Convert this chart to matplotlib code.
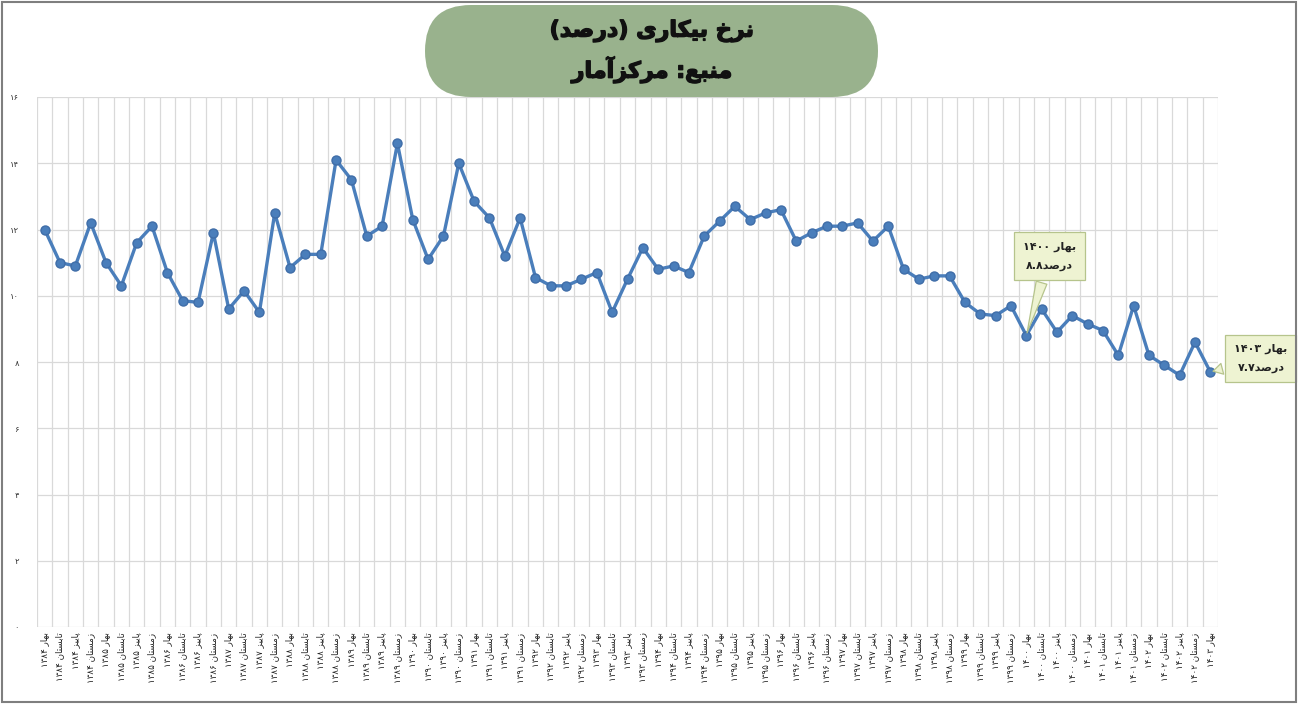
# -*- coding: utf-8 -*-
import re
import numpy as np
import matplotlib
matplotlib.use('Agg')
import matplotlib.pyplot as plt
import matplotlib.patheffects as pe
from matplotlib.patches import FancyBboxPatch, Rectangle
from matplotlib.transforms import IdentityTransform

plt.rcParams['font.family'] = ['DejaVu Sans']

# data: quarterly unemployment rate, spring 1384 .. spring 1403
seasons = ['بهار', 'تابستان', 'پاییز', 'زمستان']
start_year = 1384
rate = [12.0, 11.0, 10.9, 12.2, 11.0, 10.3, 11.6, 12.1, 10.7, 9.85,
        9.8, 11.9, 9.6, 10.15, 9.5, 12.5, 10.85, 11.25, 11.25, 14.1,
        13.5, 11.8, 12.1, 14.6, 12.3, 11.1, 11.8, 14.0, 12.85, 12.35,
        11.2, 12.35, 10.55, 10.3, 10.3, 10.5, 10.7, 9.5, 10.5, 11.45,
        10.8, 10.9, 10.7, 11.8, 12.25, 12.7, 12.3, 12.5, 12.6, 11.65,
        11.9, 12.1, 12.1, 12.2, 11.65, 12.1, 10.8, 10.5, 10.6, 10.6,
        9.8, 9.45, 9.4, 9.7, 8.8, 9.6, 8.9, 9.4, 9.15, 8.95,
        8.2, 9.7, 8.2, 7.9, 7.6, 8.6, 7.7]
y_ticks = [0, 2, 4, 6, 8, 10, 12, 14, 16]
title1 = 'نرخ بیکاری (درصد)'
title2 = 'منبع: مرکزآمار'
note1 = ('بهار ۱۴۰۰', '۸.۸درصد')
note2 = ('بهار ۱۴۰۳', '۷.۷درصد')

# --- minimal persian shaping (matplotlib has no text shaping) ---
FORMS = {
    'ا': ('\uFE8D', '\uFE8E', None, None),
    'آ': ('\uFE81', '\uFE82', None, None),
    'ب': ('\uFE8F', '\uFE90', '\uFE91', '\uFE92'),
    'پ': ('\uFB56', '\uFB57', '\uFB58', '\uFB59'),
    'ت': ('\uFE95', '\uFE96', '\uFE97', '\uFE98'),
    'خ': ('\uFEA5', '\uFEA6', '\uFEA7', '\uFEA8'),
    'د': ('\uFEA9', '\uFEAA', None, None),
    'ر': ('\uFEAD', '\uFEAE', None, None),
    'ز': ('\uFEAF', '\uFEB0', None, None),
    'س': ('\uFEB1', '\uFEB2', '\uFEB3', '\uFEB4'),
    'ص': ('\uFEB9', '\uFEBA', '\uFEBB', '\uFEBC'),
    'ع': ('\uFEC9', '\uFECA', '\uFECB', '\uFECC'),
    'ک': ('\uFB8E', '\uFB8F', '\uFB90', '\uFB91'),
    'م': ('\uFEE1', '\uFEE2', '\uFEE3', '\uFEE4'),
    'ن': ('\uFEE5', '\uFEE6', '\uFEE7', '\uFEE8'),
    'ه': ('\uFEE9', '\uFEEA', '\uFEEB', '\uFEEC'),
    'ی': ('\uFBFC', '\uFBFD', '\uFBFE', '\uFBFF'),
}
NUM = r'[0-9\u06F0-\u06F9.]+'
MIRROR = str.maketrans('()', ')(')


def shape(s):
    out = []
    for i, c in enumerate(s):
        if c not in FORMS:
            out.append(c)
            continue
        f = FORMS[c]
        prev = s[i - 1] if i > 0 else ''
        nxt = s[i + 1] if i + 1 < len(s) else ''
        jp = prev in FORMS and FORMS[prev][2] is not None
        jn = f[2] is not None and nxt in FORMS
        if jp and jn:
            out.append(f[3])
        elif jp:
            out.append(f[1])
        elif jn:
            out.append(f[2])
        else:
            out.append(f[0])
    return ''.join(out)


def fa(s, rtl=True):
    parts = [p for p in re.split('(' + NUM + ')', shape(s)) if p]
    parts = [p if re.fullmatch(NUM, p) else p[::-1].translate(MIRROR) for p in parts]
    if rtl:
        parts = parts[::-1]
    return ''.join(parts)


def fa_num(v):
    return str(v).translate(str.maketrans('0123456789', '۰۱۲۳۴۵۶۷۸۹'))


labels = []
for i in range(len(rate)):
    yr = start_year + i // 4
    labels.append(fa(seasons[i % 4] + ' ' + fa_num(yr)))

W, H = 1298, 704
fig = plt.figure(figsize=(W / 100, H / 100), dpi=100)
ax = fig.add_axes([37 / W, 77 / H, (1218 - 37) / W, (627 - 97) / H])

x = np.arange(len(rate))
ax.plot(x, rate, color='#4A7EBB', lw=2.4, marker='o', ms=6.5,
        mfc='#4A7EBB', mec='#3F6DA8', zorder=3)

ax.set_xlim(-0.5, len(rate) - 0.5)
ax.set_ylim(0, 16)
ax.set_yticks(y_ticks)
ax.set_yticklabels([fa_num(v) for v in y_ticks], fontsize=6, color='#333333')
ax.set_xticks(x)
ax.set_xticklabels(labels, rotation=90, fontsize=6.3, color='#222222')
ax.set_xticks(np.arange(-0.5, len(rate)), minor=True)
ax.tick_params(which='both', length=0)
ax.tick_params(axis='x', pad=4)
ax.tick_params(axis='y', pad=13)
ax.grid(which='minor', axis='x', color='#D9D9D9', lw=0.9)
ax.grid(which='major', axis='y', color='#D9D9D9', lw=0.9)
for sp in ax.spines.values():
    sp.set_visible(False)

# callouts
box_kw = dict(boxstyle='square,pad=0.8', fc='#EEF3D2', ec='#B6C48C', lw=0.9)
arr_kw = dict(arrowstyle='wedge,tail_width=1.0,shrink_factor=0.5',
              fc='#EEF3D2', ec='#B6C48C', lw=0.9)
ax.annotate(fa(note1[0]) + '\n' + fa(note1[1], rtl=False), xy=(64, rate[64]),
            xytext=(65.5, 11.2), ha='center', va='center', fontsize=8,
            fontweight='bold', linespacing=2.1, color='#222222',
            bbox=box_kw, arrowprops=arr_kw, annotation_clip=False, zorder=5)
ax.annotate(fa(note2[0]) + '\n' + fa(note2[1], rtl=False), xy=(76, rate[76]),
            xytext=(79.3, 8.1), ha='center', va='center', fontsize=8,
            fontweight='bold', linespacing=2.1, color='#222222',
            bbox=box_kw, arrowprops=arr_kw, annotation_clip=False, zorder=5)

# title pill
pill = FancyBboxPatch((425, H - 97), 453, 92, boxstyle='round,pad=0,rounding_size=46',
                      transform=IdentityTransform(), fc='#99B28D', ec='none', zorder=4)
fig.add_artist(pill)
bold = [pe.withStroke(linewidth=1.0, foreground='#111111')]
fig.text(652 / W, 1 - 31 / H, fa(title1), ha='center', va='center',
         fontsize=16, fontweight='bold', color='#111111', zorder=5, path_effects=bold)
fig.text(652 / W, 1 - 70 / H, fa(title2), ha='center', va='center',
         fontsize=16, fontweight='bold', color='#111111', zorder=5, path_effects=bold)

# outer frame
fig.add_artist(Rectangle((2, 2), W - 4, H - 4, transform=IdentityTransform(),
                         fill=False, ec='#7F7F7F', lw=1.5))

fig.savefig('out.png', dpi=100)
